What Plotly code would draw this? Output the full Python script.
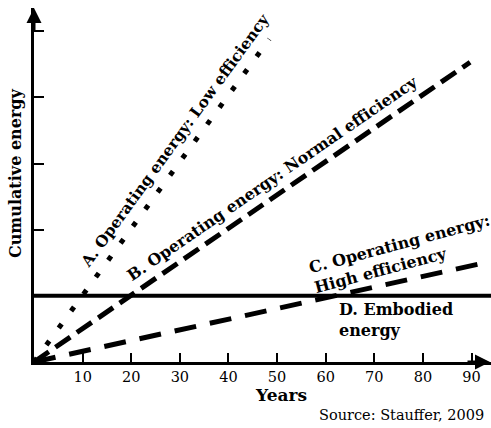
import plotly.graph_objects as go

# ---- data ----
years_A = [0, 48.4]
energy_A = [0, 4.88]
years_B = [0, 89.7]
energy_B = [0, 4.53]
years_C = [0, 94]
energy_C = [0, 1.52]
years_D = [0, 94]
energy_D = [1, 1]
x_ticks = [10, 20, 30, 40, 50, 60, 70, 80, 90]
y_ticks = [1, 2, 3, 4, 5]

W, H = 491, 428
ML, MR, MT, MB = 34, 0, 8, 66
PW, PH = W - ML - MR, H - MT - MB


def paper(px, py):
    return (px - ML) / PW, (H - MB - py) / PH


SERIF = "DejaVu Serif"
fig = go.Figure()
fig.add_trace(go.Scatter(x=years_A, y=energy_A, mode="lines",
                         line=dict(color="black", width=5, dash="5px,16px")))
fig.add_trace(go.Scatter(x=years_B, y=energy_B, mode="lines",
                         line=dict(color="black", width=5, dash="18px,8px")))
fig.add_trace(go.Scatter(x=years_C, y=energy_C, mode="lines",
                         line=dict(color="black", width=5, dash="22px,14px")))
fig.add_trace(go.Scatter(x=years_D, y=energy_D, mode="lines",
                         line=dict(color="black", width=4)))

ann = []


def label(text, px, py, angle=0, size=15, xanchor="center", align="center",
          family=SERIF, bold=True):
    x, y = paper(px, py)
    ann.append(dict(text=f"<b>{text}</b>" if bold else text, x=x, y=y,
                    xref="paper", yref="paper", showarrow=False,
                    textangle=angle, xanchor=xanchor, yanchor="middle",
                    align=align,
                    font=dict(family=family, size=size, color="black")))


label("A. Operating energy: Low efficiency", 175, 141, angle=-54, size=15.4)
label("B. Operating energy: Normal efficiency", 272, 178, angle=-34.5, size=15.8)
label("C. Operating energy:<br>High efficiency", 402, 254, angle=-15,
      align="left", size=16)
label("D. Embodied<br>energy", 337, 320, xanchor="left", align="left", size=16)
label("Cumulative energy", 15, 173, angle=-90, size=16)
label("Years", 281, 395, size=17)
label("Source: Stauffer, 2009", 317, 415, xanchor="left", size=14.5,
      bold=False)

# axis arrowheads
ann.append(dict(x=0, y=1, xref="paper", yref="paper", ax=0, ay=25,
                text="", showarrow=True, arrowhead=2, arrowsize=1,
                arrowwidth=3, arrowcolor="black"))
ann.append(dict(x=1, y=0, xref="paper", yref="paper", ax=-25, ay=0,
                text="", showarrow=True, arrowhead=2, arrowsize=1,
                arrowwidth=3, arrowcolor="black"))

fig.update_layout(
    width=W, height=H,
    margin=dict(l=ML, r=MR, t=MT, b=MB),
    paper_bgcolor="white", plot_bgcolor="white",
    showlegend=False,
    annotations=ann,
    xaxis=dict(range=[0, 94], showgrid=False, zeroline=False,
               showline=True, linecolor="black", linewidth=3,
               tickmode="array", tickvals=x_ticks,
               ticktext=[str(v) for v in x_ticks],
               ticks="inside", ticklen=9, tickwidth=2, tickcolor="black",
               tickfont=dict(family=SERIF, size=14.5, color="black")),
    yaxis=dict(range=[0, 5.35], showgrid=False, zeroline=False,
               showline=True, linecolor="black", linewidth=3,
               tickmode="array", tickvals=y_ticks, showticklabels=False,
               ticks="inside", ticklen=10, tickwidth=2, tickcolor="black"),
)

fig.write_html("out.html", config={"displayModeBar": False},
               post_script="document.body.style.margin='0';"
                           "document.body.style.overflow='hidden';")
